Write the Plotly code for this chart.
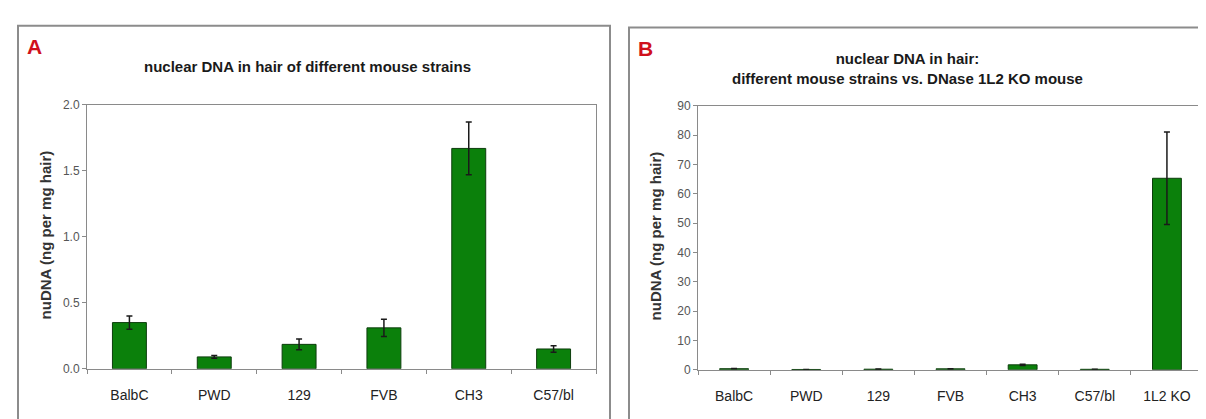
import plotly.graph_objects as go

# ---- data ----
strains_a = ["BalbC", "PWD", "129", "FVB", "CH3", "C57/bl"]
values_a = [0.35, 0.09, 0.185, 0.31, 1.67, 0.15]
errors_a = [0.05, 0.01, 0.04, 0.065, 0.20, 0.025]

strains_b = ["BalbC", "PWD", "129", "FVB", "CH3", "C57/bl", "1L2 KO"]
values_b = [0.35, 0.09, 0.185, 0.31, 1.67, 0.15, 65.3]
errors_b = [0.05, 0.01, 0.04, 0.065, 0.20, 0.025, 15.8]

yticks_a = [0.0, 0.5, 1.0, 1.5, 2.0]
yticks_b = [0, 10, 20, 30, 40, 50, 60, 70, 80, 90]

title_a = "nuclear DNA in hair of different mouse strains"
title_b = "nuclear DNA in hair:<br>different mouse strains vs. DNase 1L2 KO mouse"
ylabel = "nuDNA (ng per mg hair)"

W, H = 1206, 419
FONT = "Liberation Sans, Arial, sans-serif"
GREEN = "#0b800b"
EDGE = "#0d3d0d"
AXC = "#8a8a8a"


def px(x):
    return x / W


def py(y):
    return 1 - y / H


fig = go.Figure()
fig.add_trace(go.Bar(
    x=strains_a, y=values_a, xaxis="x", yaxis="y", width=0.4,
    marker=dict(color=GREEN, line=dict(color=EDGE, width=1)),
    error_y=dict(type="data", array=errors_a, color="#1a1a1a", thickness=1.5, width=3),
    showlegend=False,
))
fig.add_trace(go.Bar(
    x=strains_b, y=values_b, xaxis="x2", yaxis="y2", width=0.4,
    marker=dict(color=GREEN, line=dict(color=EDGE, width=1)),
    error_y=dict(type="data", array=errors_b, color="#1a1a1a", thickness=1.5, width=3),
    showlegend=False,
))

xcommon = dict(type="category", showline=True, linecolor=AXC, linewidth=1, mirror=True,
               ticks="outside", tickson="boundaries", ticklen=4, tickcolor=AXC,
               showgrid=False, zeroline=False, ticklabelstandoff=13,
               tickfont=dict(family=FONT, size=14, color="#222222"))
ycommon = dict(showline=True, linecolor=AXC, linewidth=1, mirror=True,
               ticks="outside", ticklen=4, tickcolor=AXC, showgrid=False, zeroline=False,
               tickfont=dict(family=FONT, size=12, color="#555555"))

fig.update_layout(
    width=W, height=H,
    margin=dict(l=0, r=0, t=0, b=0),
    paper_bgcolor="white", plot_bgcolor="white",
    bargap=0.6,
    xaxis=dict(domain=[px(79), px(588)], anchor="y", **xcommon),
    yaxis=dict(domain=[py(366), py(93)], anchor="x", range=[0, 2.0],
               tickvals=yticks_a, tickformat=".1f", **ycommon),
    xaxis2=dict(domain=[px(690), px(1195)], anchor="y2", **xcommon),
    yaxis2=dict(domain=[py(367), py(94)], anchor="x2", range=[0, 90],
                tickvals=yticks_b, **ycommon),
)

# panel borders
fig.add_shape(type="rect", xref="paper", yref="paper",
              x0=px(10), x1=px(602), y0=-0.05, y1=py(11),
              line=dict(color="#8c8c8c", width=2), fillcolor="rgba(0,0,0,0)", layer="below")
fig.add_shape(type="rect", xref="paper", yref="paper",
              x0=px(621), x1=1.05, y0=-0.05, y1=py(13),
              line=dict(color="#8c8c8c", width=2), fillcolor="rgba(0,0,0,0)", layer="below")

ann = []
ann.append(dict(text="<b>A</b>", x=px(17), y=py(33), xanchor="left", yanchor="middle",
                font=dict(family="Arial, Liberation Sans", size=21, color="#d0101c")))
ann.append(dict(text="<b>B</b>", x=px(628), y=py(35), xanchor="left", yanchor="middle",
                font=dict(family="Arial, Liberation Sans", size=21, color="#d0101c")))
ann.append(dict(text="<b>" + title_a + "</b>", x=px(299), y=py(53), xanchor="center", yanchor="middle",
                font=dict(family=FONT, size=15, color="#1a1a1a")))
ann.append(dict(text="<b>" + title_b.replace("<br>", "</b><br><b>") + "</b>", x=px(899), y=py(55),
                xanchor="center", yanchor="middle",
                font=dict(family=FONT, size=15, color="#1a1a1a")))
ann.append(dict(text="<b>" + ylabel + "</b>", x=px(37), y=py(228), textangle=-90,
                xanchor="center", yanchor="middle",
                font=dict(family="Arial, Liberation Sans", size=15, color="#333333")))
ann.append(dict(text="<b>" + ylabel + "</b>", x=px(647), y=py(228), textangle=-90,
                xanchor="center", yanchor="middle",
                font=dict(family="Arial, Liberation Sans", size=15, color="#333333")))
for a in ann:
    a.update(xref="paper", yref="paper", showarrow=False)
fig.update_layout(annotations=ann)

fig.write_html("out.html")
